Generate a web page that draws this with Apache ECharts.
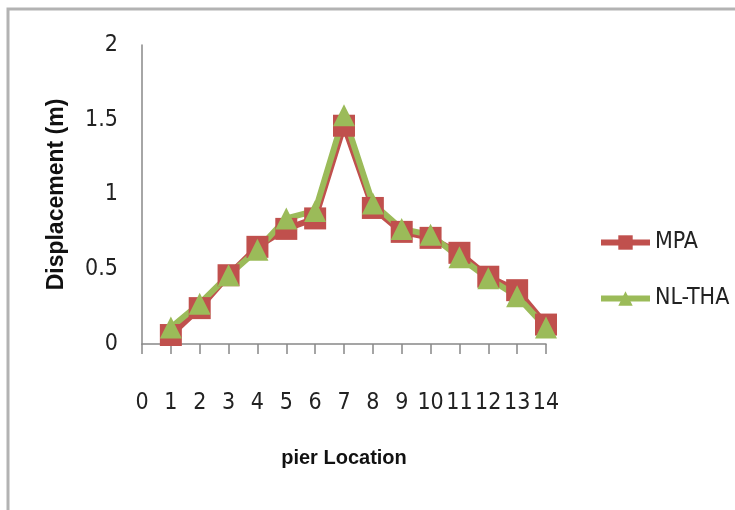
<!DOCTYPE html>
<html>
<head>
<meta charset="utf-8">
<script src="https://cdn.jsdelivr.net/npm/echarts@6/dist/echarts.min.js"></script>
<style>
  html, body { margin: 0; padding: 0; background: #fff; }
  #chart { width: 735px; height: 510px; }
</style>
</head>
<body>
<div id="chart"></div>
<script>
// pier numbers along the bridge
const piers = [1, 2, 3, 4, 5, 6, 7, 8, 9, 10, 11, 12, 13, 14];
// displacement (m) per pier
const mpa = [0.06, 0.24, 0.46, 0.65, 0.77, 0.84, 1.46, 0.91, 0.75, 0.71, 0.61, 0.45, 0.36, 0.13];
const nlTha = [0.11, 0.27, 0.46, 0.63, 0.84, 0.89, 1.53, 0.94, 0.77, 0.73, 0.58, 0.44, 0.32, 0.11];

const narrow = "'Liberation Sans Narrow', 'DejaVu Sans Condensed', sans-serif";

const chart = echarts.init(document.getElementById('chart'));

chart.setOption({
  animation: false,
  backgroundColor: '#fff',
  graphic: [{
    type: 'rect',
    shape: { x: 8, y: 9, width: 900, height: 700 },
    style: { fill: 'none', stroke: '#b3b3b3', lineWidth: 3 },
    silent: true
  }],
  grid: { left: 142, right: 189, top: 45, bottom: 166 },
  legend: {
    orient: 'vertical',
    left: 593,
    top: 226,
    itemWidth: 49,
    itemHeight: 18,
    itemGap: 33,
    lineStyle: { width: 6 },
    textStyle: { fontFamily: narrow, fontSize: 23, color: '#222' },
    data: ['MPA', 'NL-THA']
  },
  xAxis: {
    type: 'value',
    min: 0,
    max: 14,
    interval: 1,
    name: 'pier Location',
    nameLocation: 'middle',
    nameGap: 104,
    nameTextStyle: { fontFamily: 'Liberation Sans, sans-serif', fontWeight: 'bold', fontSize: 20, color: '#111' },
    axisLine: { onZero: false, lineStyle: { color: '#888', width: 1.5 } },
    axisTick: { show: true, length: 10, lineStyle: { color: '#888', width: 1.5 } },
    axisLabel: { margin: 48, fontFamily: narrow, fontSize: 23, color: '#222' },
    splitLine: { show: false }
  },
  yAxis: {
    type: 'value',
    min: 0,
    max: 2,
    interval: 0.5,
    name: 'Displacement (m)',
    nameLocation: 'middle',
    nameRotate: 90,
    nameGap: 74,
    nameTextStyle: { fontFamily: 'Liberation Sans, sans-serif', fontWeight: 'bold', fontSize: 23, color: '#111' },
    axisLine: { show: true, lineStyle: { color: '#888', width: 1.5 } },
    axisTick: { show: false },
    axisLabel: { margin: 24, fontFamily: narrow, fontSize: 23, color: '#222' },
    splitLine: { show: false }
  },
  series: [
    {
      name: 'MPA',
      type: 'line',
      data: piers.map((p, i) => [p, mpa[i]]),
      symbol: 'rect',
      symbolSize: 22,
      lineStyle: { color: '#c0504d', width: 6 },
      itemStyle: { color: '#c0504d' }
    },
    {
      name: 'NL-THA',
      type: 'line',
      data: piers.map((p, i) => [p, nlTha[i]]),
      symbol: 'triangle',
      symbolSize: 22,
      lineStyle: { color: '#9bbb59', width: 6 },
      itemStyle: { color: '#9bbb59' }
    }
  ]
});
</script>
</body>
</html>
